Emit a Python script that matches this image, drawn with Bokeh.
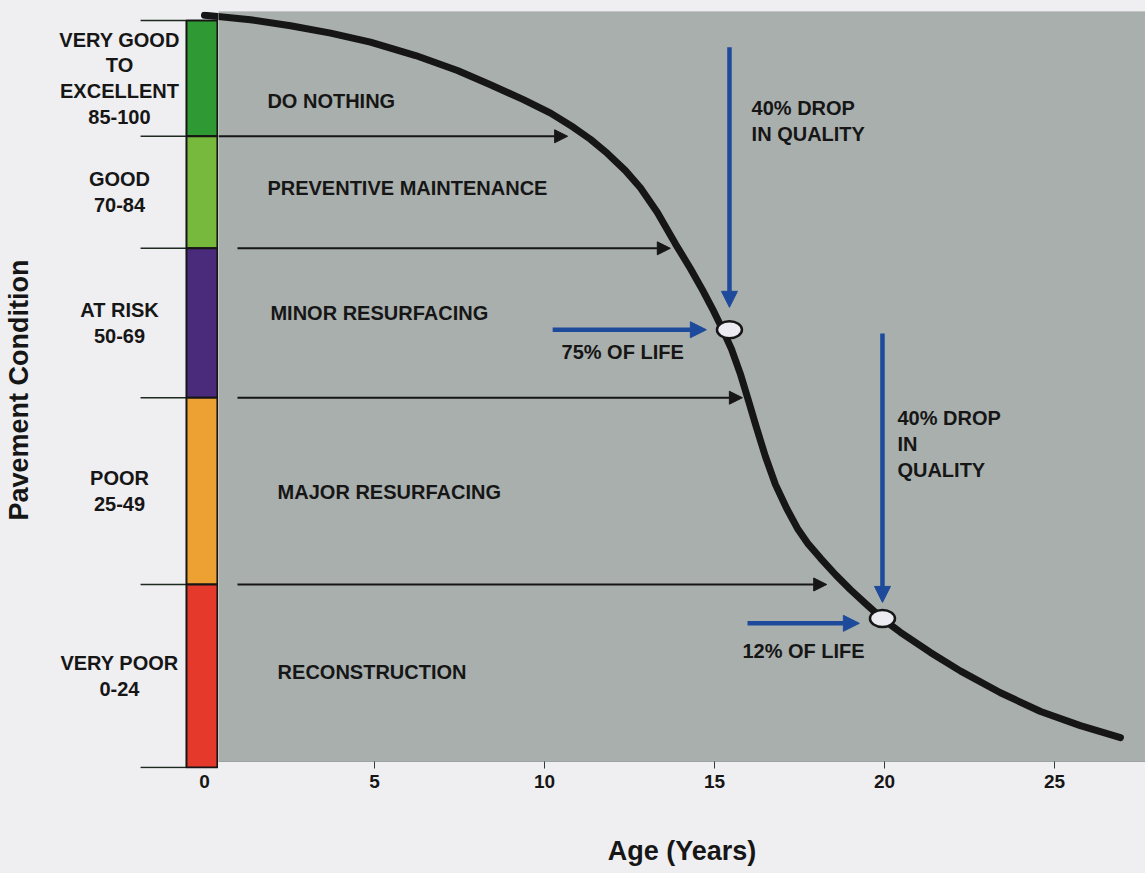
from bokeh.plotting import figure
from bokeh.models import Range1d, FixedTicker, Arrow, NormalHead, ColumnDataSource, BoxAnnotation
from bokeh.layouts import row
from bokeh.core.properties import value
from bokeh.embed import file_html
from bokeh.resources import INLINE

# ---------------- data ----------------
band_labels = ["VERY GOOD\nTO\nEXCELLENT\n85-100", "GOOD\n70-84", "AT RISK\n50-69",
               "POOR\n25-49", "VERY POOR\n0-24"]
band_low = [84.5, 69.5, 49.5, 24.5, 0.0]
band_high = [100.0, 84.5, 69.5, 49.5, 24.5]
band_colors = ["#2f9a34", "#76b93c", "#4a2a7a", "#eea133", "#e5392b"]
boundaries = [100.0, 84.5, 69.5, 49.5, 24.5, 0.0]

actions = ["DO NOTHING", "PREVENTIVE MAINTENANCE", "MINOR RESURFACING",
           "MAJOR RESURFACING", "RECONSTRUCTION"]
action_age = [1.85, 1.85, 1.94, 2.15, 2.15]
action_cond = [89.2, 77.6, 60.8, 36.9, 12.85]

age = [0.0, 1.35, 2.53, 3.71, 4.88, 6.21, 7.44, 8.41, 9.38, 10.18, 10.85,
       11.35, 11.85, 12.38, 12.82, 13.32, 13.85, 14.29, 14.65, 14.94, 15.21,
       15.5, 15.76, 16.0, 16.24, 16.5, 16.79, 17.12, 17.44, 17.76, 18.12,
       18.56, 19.0, 19.5, 19.97, 20.47, 21.35, 22.24, 23.41, 24.59, 25.76, 26.94]
condition = [100.7, 100.1, 99.3, 98.3, 97.1, 95.3, 93.3, 91.4, 89.4, 87.6, 85.7,
             84.1, 82.2, 79.9, 77.6, 74.3, 70.1, 66.8, 63.9, 61.4, 58.9,
             56.0, 52.7, 49.1, 45.4, 41.6, 37.9, 34.7, 32.0, 29.9, 28.0,
             25.8, 23.8, 21.7, 19.8, 18.1, 15.4, 12.9, 10.0, 7.5, 5.6, 4.0]

marker_age = [15.44, 19.94]
marker_cond = [58.6, 19.95]

# black arrows from the band boundaries to the curve
black_x0 = [0.41, 0.97, 0.97, 0.97]
black_x1 = [10.68, 13.7, 15.82, 18.3]
black_y = [84.5, 69.5, 49.5, 24.5]

# blue arrows
blue_x0 = [15.44, 19.94, 10.24, 15.97]
blue_y0 = [96.4, 58.1, 58.6, 19.3]
blue_x1 = [15.44, 19.94, 14.76, 19.26]
blue_y1 = [61.6, 22.1, 58.6, 19.3]

notes = ["40% DROP\nIN QUALITY", "40% DROP\nIN\nQUALITY", "75% OF LIFE", "12% OF LIFE"]
note_age = [16.09, 20.38, 10.5, 15.82]
note_cond = [86.5, 43.3, 55.6, 15.66]

age_ticks = [5, 10, 15, 20, 25]

# ---------------- style ----------------
BG = "#efeef1"
PANEL = "#a9afad"
EDGE = "#2f3d35"
INK = "#161616"
BLUE = "#1d4a9a"
FONT = value("Liberation Sans")
Y_RANGE = (-0.134, 101.2)


def style_axis_labels(ax):
    ax.major_label_text_font = "Liberation Sans"
    ax.major_label_text_font_style = "bold"
    ax.major_label_text_font_size = "19px"
    ax.major_label_text_color = INK
    ax.axis_label_text_font = "Liberation Sans"
    ax.axis_label_text_font_style = "bold"
    ax.axis_label_text_font_size = "27px"
    ax.axis_label_text_color = INK
    ax.minor_tick_line_color = None
    ax.axis_line_color = None


# ---------------- left figure (condition bands) ----------------
left = figure(width=218, height=873, x_range=Range1d(-4.882, 0.4118),
              y_range=Range1d(*Y_RANGE), output_backend="svg",
              toolbar_location=None, min_border_left=38, min_border_right=0,
              min_border_top=11, min_border_bottom=105)
left.background_fill_color = None
left.border_fill_color = BG
left.outline_line_color = None
left.grid.visible = False

style_axis_labels(left.xaxis[0])
left.xaxis.ticker = FixedTicker(ticks=[0])
left.xaxis.major_tick_out = 0
left.xaxis.major_tick_in = 0
left.xaxis.major_label_standoff = 6

style_axis_labels(left.yaxis[0])
left.yaxis.ticker = FixedTicker(ticks=[])
left.yaxis.major_tick_out = 0
left.yaxis.major_tick_in = 0
left.yaxis.axis_label = "Pavement Condition"
left.yaxis.axis_label_standoff = 5

left.segment(x0=-1.88, x1=-0.53, y0=boundaries, y1=boundaries,
             line_color="#1c2a20", line_width=1.5)
left.quad(left=-0.53, right=0.38, bottom=band_low, top=band_high,
          fill_color=band_colors, line_color=INK, line_width=2)
centers = [(a + b) / 2 for a, b in zip(band_low, band_high)]
left.text(x=-2.5, y=centers, text=band_labels, text_font=FONT,
          text_font_style="bold", text_font_size="20px", text_color=INK,
          text_align="center", text_baseline="middle", text_line_height=1.17)

curve = ColumnDataSource(dict(age=age, condition=condition))
left.line("age", "condition", source=curve, line_color=INK, line_width=7,
          line_cap="round", line_join="round")

# ---------------- right figure (deterioration curve) ----------------
p = figure(width=927, height=873, x_range=Range1d(0.4118, 27.676),
           y_range=Range1d(*Y_RANGE), output_backend="svg",
           toolbar_location=None, y_axis_location=None, min_border_left=0,
           min_border_right=0, min_border_top=11, min_border_bottom=105)
p.background_fill_color = None
p.border_fill_color = BG
p.outline_line_color = None
p.grid.visible = False

p.add_layout(BoxAnnotation(bottom=0.8, fill_color=PANEL, fill_alpha=1.0,
                           line_color=EDGE, line_width=1, level="underlay"))

style_axis_labels(p.xaxis[0])
p.xaxis.ticker = FixedTicker(ticks=age_ticks)
p.xaxis.major_tick_line_color = EDGE
p.xaxis.major_tick_out = 0
p.xaxis.major_tick_in = 7
p.xaxis.major_label_standoff = 6
p.xaxis.axis_label = "Age (Years)"
p.xaxis.axis_label_standoff = 45

p.text(x=action_age, y=action_cond, text=actions, text_font=FONT,
       text_font_style="bold", text_font_size="20px", text_color=INK,
       text_align="left", text_baseline="middle")
p.text(x=note_age, y=note_cond, text=notes, text_font=FONT,
       text_font_style="bold", text_font_size="20px", text_color=INK,
       text_align="left", text_baseline="middle", text_line_height=1.17)

black_src = ColumnDataSource(dict(x0=black_x0, x1=black_x1, y=black_y))
p.add_layout(Arrow(end=NormalHead(size=13, fill_color=INK, line_color=INK),
                   x_start="x0", y_start="y", x_end="x1", y_end="y",
                   source=black_src, line_color=INK, line_width=2))
blue_src = ColumnDataSource(dict(x0=blue_x0, y0=blue_y0, x1=blue_x1, y1=blue_y1))
p.add_layout(Arrow(end=NormalHead(size=16, fill_color=BLUE, line_color=BLUE),
                   x_start="x0", y_start="y0", x_end="x1", y_end="y1",
                   source=blue_src, line_color=BLUE, line_width=4.5))

p.line("age", "condition", source=curve, line_color=INK, line_width=7,
       line_cap="round", line_join="round")
p.ellipse(x=marker_age, y=marker_cond, width=25, height=17,
          width_units="screen", height_units="screen",
          fill_color="#ecebf2", line_color=INK, line_width=2.5)

layout = row(left, p, styles={"background-color": BG})
open("out.html", "w").write(file_html(layout, INLINE))
